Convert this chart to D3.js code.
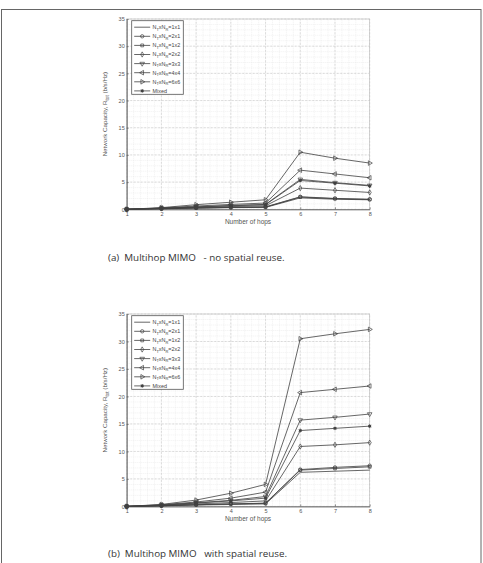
<!DOCTYPE html>
<html>
<head>
<meta charset="utf-8">
<script src="https://cdn.jsdelivr.net/npm/d3@7"></script>
<style>
  body { margin: 0; background: #fff; }
  svg { display: block; }
</style>
</head>
<body>
<svg id="fig" width="483" height="563"></svg>
<script>
// hops on x axis
var hops = [1, 2, 3, 4, 5, 6, 7, 8];
var seriesNames = ["1x1", "2x1", "1x2", "2x2", "3x3", "4x4", "6x6", "Mixed"];
var markers = ["none", "circle", "square", "diamond", "down", "left", "right", "star"];
var yTicks = [0, 5, 10, 15, 20, 25, 30, 35];

// (a) no spatial reuse
var noReuse11 = [0, 0.1, 0.2, 0.3, 0.35, 2.1, 1.85, 1.75];
var noReuse21 = [0, 0.12, 0.25, 0.35, 0.45, 2.3, 2.0, 1.85];
var noReuse12 = [0, 0.12, 0.25, 0.35, 0.4, 2.25, 1.95, 1.8];
var noReuse22 = [0, 0.15, 0.35, 0.5, 0.65, 3.9, 3.5, 3.1];
var noReuse33 = [0, 0.2, 0.45, 0.7, 0.9, 5.5, 4.9, 4.4];
var noReuse44 = [0, 0.25, 0.6, 0.9, 1.15, 7.2, 6.5, 5.8];
var noReuse66 = [0, 0.3, 0.85, 1.3, 1.75, 10.5, 9.4, 8.5];
var noReuseMixed = [0, 0.2, 0.4, 0.65, 0.85, 5.3, 4.8, 4.3];

// (b) with spatial reuse
var reuse11 = [0, 0.1, 0.25, 0.35, 0.45, 6.2, 6.4, 6.6];
var reuse21 = [0, 0.12, 0.3, 0.45, 0.6, 6.7, 7.1, 7.4];
var reuse12 = [0, 0.12, 0.3, 0.45, 0.55, 6.6, 6.9, 7.2];
var reuse22 = [0, 0.15, 0.45, 0.7, 1.0, 10.9, 11.2, 11.6];
var reuse33 = [0, 0.25, 0.65, 1.1, 1.8, 15.7, 16.2, 16.8];
var reuse44 = [0, 0.3, 0.8, 1.5, 2.6, 20.7, 21.3, 21.9];
var reuse66 = [0, 0.35, 1.15, 2.4, 4.0, 30.5, 31.4, 32.2];
var reuseMixed = [0, 0.2, 0.6, 1.0, 1.5, 13.8, 14.2, 14.6];

var svg = d3.select("#fig");
var ink = "#404040";

// page frame
svg.append("rect")
    .attr("x", 1.5).attr("y", 9.5)
    .attr("width", 479.5).attr("height", 600)
    .attr("fill", "none").attr("stroke", "#666").attr("stroke-width", 1);

function marker(g, type, cx, cy) {
  var sym = null, rot = 0, sz = 9;
  if (type == "circle") sym = d3.symbolCircle;
  if (type == "square") { sym = d3.symbolSquare; sz = 8; }
  if (type == "diamond") { sym = d3.symbolDiamond; sz = 8; }
  if (type == "down") { sym = d3.symbolTriangle; rot = 180; }
  if (type == "left") { sym = d3.symbolTriangle; rot = -90; }
  if (type == "right") { sym = d3.symbolTriangle; rot = 90; }
  if (type == "star") {
    g.append("circle").attr("cx", cx).attr("cy", cy).attr("r", 1.3).attr("fill", ink);
    g.append("path")
      .attr("d", d3.symbol().type(d3.symbolAsterisk).size(10)())
      .attr("transform", "translate(" + cx + "," + cy + ")")
      .attr("fill", "none").attr("stroke", ink).attr("stroke-width", 0.7);
    return;
  }
  if (!sym) return;
  g.append("path")
    .attr("d", d3.symbol().type(sym).size(sz)())
    .attr("transform", "translate(" + cx + "," + cy + ") rotate(" + rot + ")")
    .attr("fill", "none").attr("stroke", ink).attr("stroke-width", 0.7);
}

function drawPanel(top, bottom, data, caption, captionY) {
  var x = d3.scaleLinear().domain([1, 8]).range([126.7, 369.7]);
  var y = d3.scaleLinear().domain([0, 35]).range([bottom, top]);
  var g = svg.append("g");

  // minor grid
  var minorX = d3.range(1, 8.001, 0.2);
  var minorY = d3.range(0, 35.001, 1);
  g.selectAll(".mx").data(minorX).enter().append("line")
    .attr("x1", d => x(d)).attr("x2", d => x(d))
    .attr("y1", y(0)).attr("y2", y(35))
    .attr("stroke", "#e2e2e2").attr("stroke-width", 0.5).attr("stroke-dasharray", "1,1");
  g.selectAll(".my").data(minorY).enter().append("line")
    .attr("x1", x(1)).attr("x2", x(8))
    .attr("y1", d => y(d)).attr("y2", d => y(d))
    .attr("stroke", "#e2e2e2").attr("stroke-width", 0.5).attr("stroke-dasharray", "1,1");
  // major grid
  g.selectAll(".gx").data(hops).enter().append("line")
    .attr("x1", d => x(d)).attr("x2", d => x(d))
    .attr("y1", y(0)).attr("y2", y(35))
    .attr("stroke", "#c8c8c8").attr("stroke-width", 0.6).attr("stroke-dasharray", "2,1.5");
  g.selectAll(".gy").data(yTicks).enter().append("line")
    .attr("x1", x(1)).attr("x2", x(8))
    .attr("y1", d => y(d)).attr("y2", d => y(d))
    .attr("stroke", "#c8c8c8").attr("stroke-width", 0.6).attr("stroke-dasharray", "2,1.5");

  // box
  g.append("rect").attr("x", x(1)).attr("y", y(35))
    .attr("width", x(8) - x(1)).attr("height", y(0) - y(35))
    .attr("fill", "none").attr("stroke", "#bdbdbd").attr("stroke-width", 0.6);

  // axes
  var ax = g.append("g").attr("transform", "translate(0," + y(0) + ")")
    .call(d3.axisBottom(x).tickValues(hops).tickFormat(d3.format("d"))
      .tickSizeInner(-2).tickSizeOuter(0).tickPadding(3));
  var ay = g.append("g").attr("transform", "translate(" + x(1) + ",0)")
    .call(d3.axisLeft(y).tickValues(yTicks).tickSizeInner(-2).tickSizeOuter(0).tickPadding(2));
  [ax, ay].forEach(function(a) {
    a.select(".domain").attr("stroke", "#555").attr("stroke-width", 0.9);
    a.selectAll(".tick line").attr("stroke", "#555").attr("stroke-width", 0.6);
    a.selectAll("text").attr("fill", "#555").style("font-family", "Liberation Sans, Arial")
      .style("font-size", "5.5px");
  });

  // series
  data.forEach(function(vals, i) {
    var pts = hops.map((h, k) => [x(h), y(vals[k])]);
    g.append("path").attr("d", d3.line()(pts))
      .attr("fill", "none").attr("stroke", ink).attr("stroke-width", 0.8);
    pts.forEach(p => marker(g, markers[i], p[0], p[1]));
  });

  // axis labels
  g.append("text").attr("x", 248).attr("y", y(0) + 14.5)
    .attr("text-anchor", "middle").attr("fill", "#555")
    .style("font-family", "Liberation Sans, Arial").style("font-size", "6.5px")
    .text("Number of hops");
  var yl = g.append("text")
    .attr("transform", "translate(107," + (top + bottom) / 2 + ") rotate(-90)")
    .attr("text-anchor", "middle").attr("fill", "#555")
    .style("font-family", "Liberation Sans, Arial").style("font-size", "6.2px");
  yl.append("tspan").text("Network Capacity, R");
  yl.append("tspan").attr("dy", 1.8).style("font-size", "4.6px").text("tot");
  yl.append("tspan").attr("dy", -1.8).text(" (b/s/Hz)");

  // legend
  var lg = g.append("g").attr("transform", "translate(131.7," + (top + 1.7) + ")");
  lg.append("rect").attr("width", 51.6).attr("height", 73.6)
    .attr("fill", "#fff").attr("stroke", "#555").attr("stroke-width", 0.8);
  seriesNames.forEach(function(name, i) {
    var ly = 6.5 + i * 9.1;
    lg.append("line").attr("x1", 2.5).attr("x2", 18.5).attr("y1", ly).attr("y2", ly)
      .attr("stroke", ink).attr("stroke-width", 0.8);
    marker(lg, markers[i], 10.5, ly);
    var t = lg.append("text").attr("x", 20.8).attr("y", ly + 2)
      .attr("fill", "#444").style("font-family", "Liberation Sans, Arial").style("font-size", "5.4px");
    if (name == "Mixed") { t.text("Mixed"); return; }
    t.append("tspan").text("N");
    t.append("tspan").attr("dy", 1.5).style("font-size", "4px").text("T");
    t.append("tspan").attr("dy", -1.5).text("xN");
    t.append("tspan").attr("dy", 1.5).style("font-size", "4px").text("R");
    t.append("tspan").attr("dy", -1.5).text("=" + name);
  });

  // caption
  svg.append("text").attr("x", 108).attr("y", captionY)
    .attr("fill", "#333").style("font-family", "Open Sans, Noto Sans, sans-serif")
    .style("font-size", "9.8px").style("white-space", "pre").attr("xml:space", "preserve")
    .text(caption);
}

drawPanel(19, 209.3,
  [noReuse11, noReuse21, noReuse12, noReuse22, noReuse33, noReuse44, noReuse66, noReuseMixed],
  "(a)  Multihop MIMO   - no spatial reuse.", 260.5);
drawPanel(314, 506.4,
  [reuse11, reuse21, reuse12, reuse22, reuse33, reuse44, reuse66, reuseMixed],
  "(b)  Multihop MIMO   with spatial reuse.", 556.5);
</script>
</body>
</html>
